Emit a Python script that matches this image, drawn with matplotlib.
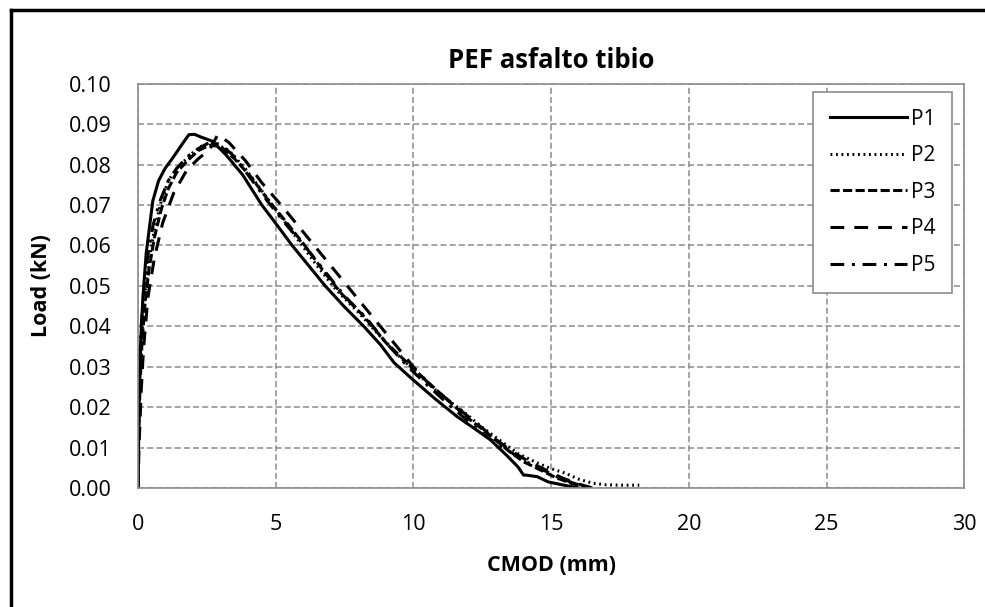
import numpy as np
import matplotlib
matplotlib.use("Agg")
import matplotlib.pyplot as plt
from matplotlib.lines import Line2D

plt.rcParams['font.family'] = ['Open Sans', 'DejaVu Sans']

# Load vs CMOD curves
p1_x = [0, 0.02, 0.05, 0.1, 0.18, 0.3, 0.54, 0.75, 0.98, 1.3, 1.6, 1.85, 2.05, 2.3, 2.7,
        3.2, 3.8, 4.5, 5.0, 5.6, 6.2, 6.8, 7.5, 8.2, 8.8, 9.3, 10.0, 10.8, 11.6, 12.2,
        12.8, 13.4, 13.8, 14.0, 14.1, 14.5, 14.9, 15.4, 16.0]
p1_y = [0, 0.012, 0.025, 0.036, 0.047, 0.058, 0.071, 0.076, 0.079, 0.082, 0.085, 0.0874,
        0.0875, 0.0868, 0.0858, 0.0824, 0.0775, 0.070, 0.0655, 0.060, 0.055, 0.050,
        0.0448, 0.040, 0.0355, 0.031, 0.0267, 0.022, 0.0176, 0.0148, 0.0119, 0.008,
        0.0052, 0.0032, 0.0032, 0.0028, 0.0015, 0.0008, 0.0]

p2_x = [0, 0.03, 0.08, 0.15, 0.25, 0.4, 0.6, 0.85, 1.1, 1.4, 1.7, 2.0, 2.4, 2.8, 3.3,
        3.9, 4.5, 5.1, 5.8, 6.5, 7.2, 8.0, 8.8, 9.5, 10.2, 11.0, 11.8, 12.5, 13.2, 13.8,
        14.5, 15.0, 15.5, 16.0, 16.5, 17.0, 17.6, 18.2]
p2_y = [0, 0.015, 0.028, 0.038, 0.047, 0.056, 0.064, 0.071, 0.076, 0.079, 0.081, 0.083,
        0.085, 0.0852, 0.0835, 0.079, 0.0735, 0.068, 0.0615, 0.055, 0.049, 0.0435,
        0.0375, 0.0325, 0.028, 0.023, 0.019, 0.015, 0.0115, 0.0085, 0.0062, 0.0048,
        0.0037, 0.0022, 0.0012, 0.0008, 0.0007, 0.0007]

p3_x = [0, 0.03, 0.08, 0.15, 0.25, 0.4, 0.6, 0.85, 1.1, 1.4, 1.8, 2.2, 2.6, 3.0, 3.5,
        4.1, 4.7, 5.3, 6.0, 6.7, 7.4, 8.2, 9.0, 9.7, 10.4, 11.2, 12.0, 12.7, 13.4, 14.0,
        14.6, 15.2, 15.8, 16.4]
p3_y = [0, 0.013, 0.026, 0.036, 0.045, 0.054, 0.062, 0.069, 0.074, 0.078, 0.081, 0.0835,
        0.0848, 0.0845, 0.0815, 0.077, 0.0715, 0.0665, 0.0605, 0.054, 0.048, 0.0425,
        0.036, 0.0315, 0.027, 0.022, 0.0172, 0.0135, 0.0095, 0.0065, 0.0045, 0.0025,
        0.001, 0.0]

p4_x = [0, 0.05, 0.12, 0.2, 0.36, 0.6, 0.9, 1.3, 1.78, 2.2, 2.6, 2.9, 3.3, 3.9, 4.5,
        5.2, 5.8, 6.4, 7.0, 7.6, 8.2, 8.8, 9.4, 10.0, 10.6, 11.4, 12.2, 13.0, 13.6, 14.2,
        14.8, 15.4, 16.0, 16.5]
p4_y = [0, 0.012, 0.024, 0.034, 0.047, 0.057, 0.0656, 0.073, 0.0787, 0.0815, 0.0837,
        0.0874, 0.0855, 0.081, 0.0755, 0.070, 0.065, 0.060, 0.055, 0.050, 0.045, 0.040,
        0.035, 0.030, 0.0255, 0.021, 0.0165, 0.012, 0.009, 0.0065, 0.0045, 0.0025,
        0.001, 0.0]

p5_x = [0, 0.02, 0.06, 0.12, 0.2, 0.35, 0.55, 0.8, 1.1, 1.4, 1.8, 2.2, 2.6, 3.0, 3.5,
        4.1, 4.7, 5.4, 6.1, 6.8, 7.5, 8.3, 9.0, 9.8, 10.5, 11.3, 12.0, 12.8, 13.5, 14.1,
        14.7, 15.3, 15.9, 16.5]
p5_y = [0, 0.018, 0.03, 0.04, 0.048, 0.057, 0.065, 0.071, 0.076, 0.079, 0.082, 0.084,
        0.0855, 0.085, 0.082, 0.0765, 0.071, 0.065, 0.0595, 0.0535, 0.0475, 0.042,
        0.036, 0.030, 0.0255, 0.0205, 0.0165, 0.012, 0.009, 0.0065, 0.0045, 0.0025,
        0.001, 0.0]

labels = ['P1', 'P2', 'P3', 'P4', 'P5']
xticks = [0, 5, 10, 15, 20, 25, 30]
yticks = [0.00, 0.01, 0.02, 0.03, 0.04, 0.05, 0.06, 0.07, 0.08, 0.09, 0.10]

fig = plt.figure(figsize=(9.85, 6.07), dpi=100)
ax = fig.add_axes([0.140, 0.196, 0.839, 0.666])

lw = 2.2
ax.plot(p1_x, p1_y, color='black', lw=lw, ls='-', label=labels[0])
ax.plot(p2_x, p2_y, color='black', lw=lw, ls=(0, (0.6, 1.2)), label=labels[1])
ax.plot(p3_x, p3_y, color='black', lw=lw, ls=(0, (3, 1.1)), label=labels[2])
ax.plot(p4_x, p4_y, color='black', lw=lw, ls=(0, (4.5, 3.3)), label=labels[3])
ax.plot(p5_x, p5_y, color='black', lw=lw, ls=(0, (4.5, 2.5, 1, 2.5)), label=labels[4])

ax.set_xlim(0, 30)
ax.set_ylim(0, 0.10)
ax.set_xticks(xticks)
ax.set_yticks(yticks)
ax.set_xticklabels([str(t) for t in xticks])
ax.set_yticklabels(['%.2f' % t for t in yticks])
ax.tick_params(length=0, labelsize=15.5, pad=19)
ax.grid(True, color='#8c8c8c', ls=(0, (4, 2)), lw=1.1)
ax.set_axisbelow(True)
for s in ax.spines.values():
    s.set_color('#8c8c8c')
    s.set_linewidth(1.2)

ax.set_title('PEF asfalto tibio', fontsize=18.5, fontweight='bold', pad=11)
ax.set_xlabel('CMOD (mm)', fontsize=15.5, fontweight='bold')
ax.set_ylabel('Load (kN)', fontsize=15.5, fontweight='bold')
ax.xaxis.set_label_coords(0.5, -0.166)
ax.yaxis.set_label_coords(-0.104, 0.5)

leg = ax.legend(loc='upper right', bbox_to_anchor=(0.9855, 0.98), borderaxespad=0,
                fontsize=15, handlelength=3.7, labelspacing=0.75, fancybox=False,
                edgecolor='#8c8c8c', framealpha=1, borderpad=0.8, handletextpad=0.2)
leg.get_frame().set_linewidth(1.2)

# outer chart border (cropped at right and bottom in the reference)
fig.add_artist(Line2D([11 / 985, 11 / 985], [-0.1, 1 - 10 / 607], color='black', lw=2.5,
                      transform=fig.transFigure))
fig.add_artist(Line2D([11 / 985, 1.1], [1 - 10 / 607, 1 - 10 / 607], color='black', lw=2.5,
                      transform=fig.transFigure))

fig.savefig('out.png', dpi=100)
